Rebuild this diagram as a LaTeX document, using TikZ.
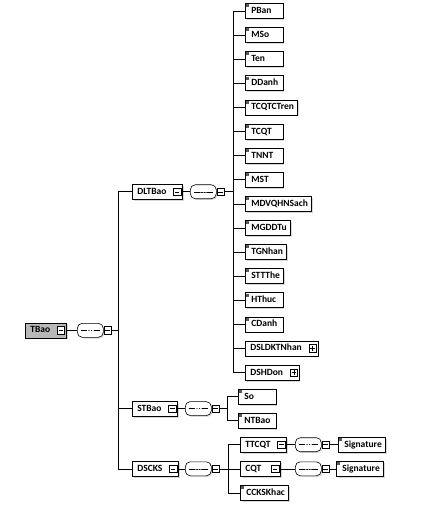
\documentclass[tikz,border=0pt]{standalone}
\usepackage{fontspec}
\setmainfont{Carlito}
\usepackage{tikz}
\usetikzlibrary{positioning,shadows}

\newcommand{\elemfont}{\fontsize{9.5}{10}\selectfont\bfseries}

\begin{document}
\begin{tikzpicture}[x=1pt, y=-1pt, node distance=8.5pt,
    conn/.style={line width=0.6pt},
    elem/.style={draw, line width=0.6pt, fill=white, anchor=west,
      minimum height=15pt, inner xsep=3.5pt, inner ysep=0pt,
      text height=6.6pt, text depth=1.5pt, font=\elemfont,
      general shadow={shadow xshift=1.5pt, shadow yshift=-1.5pt, fill=black!15}},
    % text flush left, box at least 40pt wide
    lalign/.style={execute at begin node={\setbox0=\hbox\bgroup},
      execute at end node={\egroup\ifdim\wd0<#1\hbox to #1{\unhbox0\hfil}\else\box0\fi}},
    leaf/.style={elem, lalign=30.5pt, execute at begin node={\hspace{2.5pt}},
      path picture={
      \fill[black!65] ([shift={(0.8pt,-0.8pt)}]path picture bounding box.north west) rectangle ++(3pt,-3pt);}},
    cplx/.style={elem, lalign=19pt, inner xsep=5pt, execute at end node={\hspace{11pt}}},
    expminus/.style={draw, line width=0.5pt, fill=white, minimum size=7.5pt, inner sep=0pt, anchor=east,
      path picture={
      \draw[line width=0.5pt] ([xshift=1.5pt]path picture bounding box.west) -- ([xshift=-1.5pt]path picture bounding box.east);}},
    expplus/.style={expminus, path picture={
      \draw[line width=0.5pt] ([xshift=1.5pt]path picture bounding box.west) -- ([xshift=-1.5pt]path picture bounding box.east)
        ([yshift=-1.5pt]path picture bounding box.north) -- ([yshift=1.5pt]path picture bounding box.south);}},
    seqbox/.style={rectangle, rounded corners=5pt, draw, line width=0.6pt, fill=white,
      anchor=west, minimum width=26pt, minimum height=14pt, inner sep=0pt,
      general shadow={shadow xshift=1.2pt, shadow yshift=-1.2pt, fill=black!15},
      path picture={
      \draw[line width=0.5pt] ([xshift=3.5pt]path picture bounding box.west) -- ([xshift=-3.5pt]path picture bounding box.east);
      \foreach \d in {-2.6,0,2.6}
        \fill ([xshift=\d pt]path picture bounding box.center) circle (0.95pt);}}
  ]
  \useasboundingbox (0,0) rectangle (436,508);

  % root
  \node[cplx, fill=black!28] (tbao) at (25,330.3) {TBao};
  \node[expminus] (tbaox) at ([xshift=-1.5pt]tbao.east) {};
  \node[seqbox] (tbaoseq) at (77,330.3) {};
  \node[expminus, anchor=west] (tbaosx) at (tbaoseq.east) {};
  \coordinate (bus0) at (118,330.3);

  % DLTBao
  \node[cplx] (dltbao) at (132,191.75) {DLTBao};
  \node[expminus] (dltbaox) at ([xshift=-1.5pt]dltbao.east) {};
  \node[seqbox] (dltbaoseq) at (190,191.75) {};
  \node[expminus, anchor=west] (dltbaosx) at (dltbaoseq.east) {};
  \coordinate (bus1) at (233,191.75);

  \node[leaf] (pban) at (245,11) {PBan};
  \node[leaf, below=of pban.south west, anchor=north west] (mso) {MSo};
  \node[leaf, below=of mso.south west, anchor=north west] (ten) {Ten};
  \node[leaf, below=of ten.south west, anchor=north west] (ddanh) {DDanh};
  \node[leaf, below=of ddanh.south west, anchor=north west] (tcqtctren) {TCQTCTren};
  \node[leaf, below=of tcqtctren.south west, anchor=north west] (tcqt) {TCQT};
  \node[leaf, below=of tcqt.south west, anchor=north west] (tnnt) {TNNT};
  \node[leaf, below=of tnnt.south west, anchor=north west] (mst) {MST};
  \node[leaf, below=of mst.south west, anchor=north west] (mdvqhnsach) {MDVQHNSach};
  \node[leaf, below=of mdvqhnsach.south west, anchor=north west] (mgddtu) {MGDDTu};
  \node[leaf, below=of mgddtu.south west, anchor=north west] (tgnhan) {TGNhan};
  \node[leaf, below=of tgnhan.south west, anchor=north west] (sttthe) {STTThe};
  \node[leaf, below=of sttthe.south west, anchor=north west] (hthuc) {HThuc};
  \node[leaf, below=of hthuc.south west, anchor=north west] (cdanh) {CDanh};
  \node[cplx, below=of cdanh.south west, anchor=north west] (dsldktnhan) {DSLDKTNhan};
  \node[expplus] (dsldktnhanx) at ([xshift=-1.5pt]dsldktnhan.east) {};
  \node[cplx, below=of dsldktnhan.south west, anchor=north west] (dshdon) {DSHDon};
  \node[expplus] (dshdonx) at ([xshift=-1.5pt]dshdon.east) {};

  % STBao
  \node[cplx] (stbao) at (132,408.6) {STBao};
  \node[expminus] (stbaox) at ([xshift=-1.5pt]stbao.east) {};
  \node[seqbox] (stbaoseq) at (185,408.6) {};
  \node[expminus, anchor=west] (stbaosx) at (stbaoseq.east) {};
  \coordinate (bus2) at (227,408.6);
  \node[leaf] (so) at (238,396.6) {So};
  \node[leaf, below=of so.south west, anchor=north west] (ntbao) {NTBao};

  % DSCKS
  \node[cplx] (dscks) at (132,468.8) {DSCKS};
  \node[expminus] (dscksx) at ([xshift=-1.5pt]dscks.east) {};
  \node[seqbox] (dscksseq) at (185,468.8) {};
  \node[expminus, anchor=west] (dscksx2) at (dscksseq.east) {};
  \coordinate (bus3) at (228,468.8);

  \node[cplx] (ttcqt) at (240,444.7) {TTCQT};
  \node[expminus] (ttcqtx) at ([xshift=-1.5pt]ttcqt.east) {};
  \node[seqbox] (ttcqtseq) at (295,444.7) {};
  \node[expminus, anchor=west] (ttcqtsx) at (ttcqtseq.east) {};
  \node[leaf] (sig1) at (338,444.7) {Signature};

  \node[cplx] (cqt) at (240,468.8) {CQT};
  \node[expminus] (cqtx) at ([xshift=-1.5pt]cqt.east) {};
  \node[seqbox] (cqtseq) at (295,468.8) {};
  \node[expminus, anchor=west] (cqtsx) at (cqtseq.east) {};
  \node[leaf] (sig2) at (336,468.8) {Signature};

  \node[leaf] (ccks) at (240,492.9) {CCKSKhac};

  % connectors
  \draw[conn] (tbao) -- (tbaoseq) (tbaosx) -- (bus0);
  \foreach \c in {dltbao,stbao,dscks}
    \draw[conn] (bus0) |- (\c);

  \draw[conn] (dltbao) -- (dltbaoseq) (dltbaosx) -- (bus1);
  \foreach \c in {pban,mso,ten,ddanh,tcqtctren,tcqt,tnnt,mst,mdvqhnsach,mgddtu,tgnhan,sttthe,hthuc,cdanh,dsldktnhan,dshdon}
    \draw[conn] (bus1) |- (\c);

  \draw[conn] (stbao) -- (stbaoseq) (stbaosx) -- (bus2);
  \foreach \c in {so,ntbao}
    \draw[conn] (bus2) |- (\c);

  \draw[conn] (dscks) -- (dscksseq) (dscksx2) -- (bus3);
  \foreach \c in {ttcqt,cqt,ccks}
    \draw[conn] (bus3) |- (\c);

  \draw[conn] (ttcqt) -- (ttcqtseq) (ttcqtsx) -- (sig1);
  \draw[conn] (cqt) -- (cqtseq) (cqtsx) -- (sig2);
\end{tikzpicture}
\end{document}
